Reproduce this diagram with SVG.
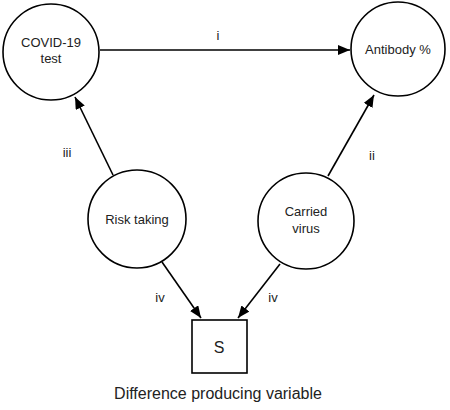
<svg xmlns="http://www.w3.org/2000/svg" width="450" height="410" viewBox="0 0 450 410">
<style>
.n{fill:#fff;stroke:#000;stroke-width:1.6}
.e{stroke:#000;stroke-width:1.6;fill:none;marker-end:url(#ah)}
text{font-family:"Liberation Sans",Arial,sans-serif;font-size:13px;fill:#222;text-anchor:middle}
</style>
<defs>
<marker id="ah" viewBox="0 0 12 10" refX="12" refY="5" markerWidth="12" markerHeight="10" markerUnits="userSpaceOnUse" orient="auto">
<path d="M0,0 L12,5 L0,10 z" fill="#000"/>
</marker>
</defs>
<rect width="450" height="410" fill="#fff"/>
<g id="edges">
<line class="e" x1="100" y1="50" x2="350" y2="50"/>
<text x="218" y="40">i</text>
<line class="e" x1="113" y1="175" x2="75" y2="97"/>
<text x="67" y="157">iii</text>
<line class="e" x1="328" y1="176" x2="374" y2="95"/>
<text x="372" y="160">ii</text>
<line class="e" x1="162" y1="262" x2="201" y2="318"/>
<text x="160" y="302">iv</text>
<line class="e" x1="280" y1="264" x2="238" y2="318"/>
<text x="273" y="302">iv</text>
</g>
<g id="covid">
<circle class="n" cx="51" cy="52" r="48"/>
<text x="51" y="47">COVID-19</text>
<text x="51" y="63">test</text>
</g>
<g id="antibody">
<circle class="n" cx="398" cy="49" r="47"/>
<text x="398" y="54">Antibody %</text>
</g>
<g id="risk">
<circle class="n" cx="137" cy="219" r="49"/>
<text x="137" y="224">Risk taking</text>
</g>
<g id="virus">
<circle class="n" cx="306" cy="221" r="48"/>
<text x="306" y="216">Carried</text>
<text x="306" y="233">virus</text>
</g>
<g id="s">
<rect class="n" x="192" y="320" width="55" height="53"/>
<text x="219" y="353" style="font-size:16px">S</text>
</g>
<text x="218" y="399" style="font-size:16px">Difference producing variable</text>
</svg>
